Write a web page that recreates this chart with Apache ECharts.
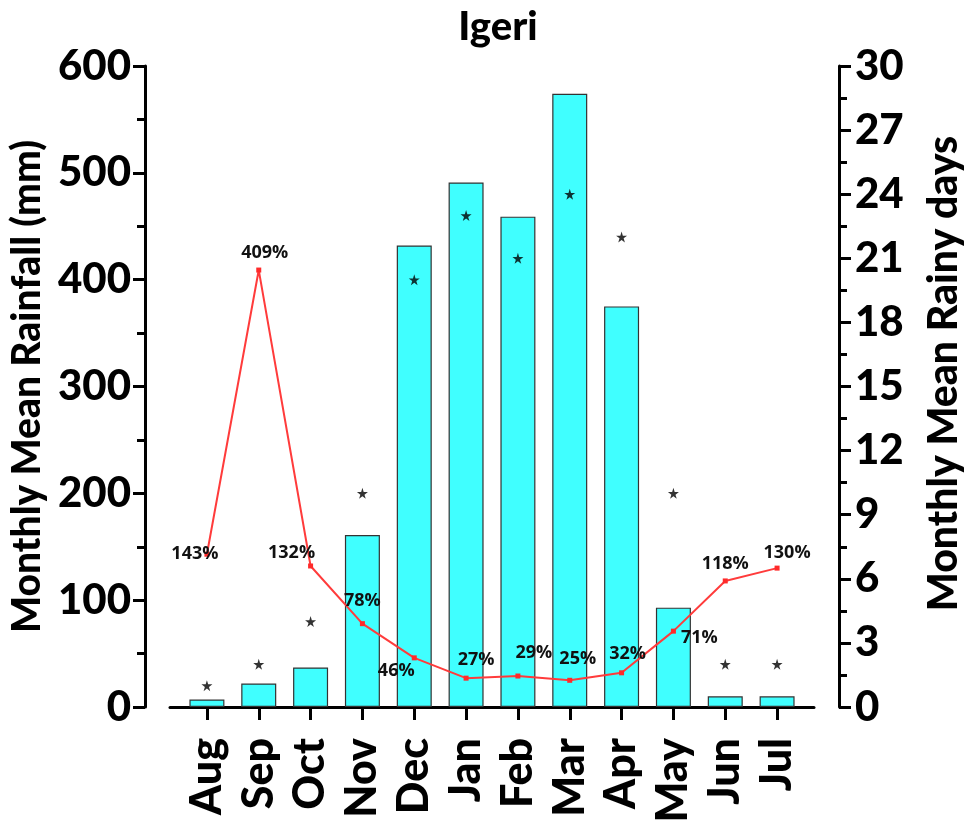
<!DOCTYPE html>
<html>
<head>
<meta charset="utf-8">
<script src="https://cdn.jsdelivr.net/npm/echarts@6/dist/echarts.min.js"></script>
<style>html,body{margin:0;padding:0;background:#fff}#c{width:966px;height:829px}</style>
</head>
<body>
<div id="c"></div>
<script>
// ---- data ----
const months = ['Aug','Sep','Oct','Nov','Dec','Jan','Feb','Mar','Apr','May','Jun','Jul'];
const rainfall = [7, 22, 37, 161, 432, 491, 459, 574, 375, 93, 10, 10];   // mm (left axis)
const rainyDays = [1, 2, 4, 10, 20, 23, 21, 24, 22, 10, 2, 2];           // days (right axis)
const cvPercent = [143, 409, 132, 78, 46, 27, 29, 25, 32, 71, 118, 130];  // % (plotted on left axis)
const leftAxisMin = 0, leftAxisMax = 600, leftAxisStep = 100;
const rightAxisMin = 0, rightAxisMax = 30, rightAxisStep = 3;

// ---- styling (label offsets per point) ----
const labelOffsets = [[-12,0],[6,-17],[-19,-13],[0,-23],[-18,13],[10,-18],[16,-23],[8,-21],[6,-19],[26,7],[0,-17],[10,-15]];

const FONT = 'Lato';
const starPath = 'path://M50,0 L61,35 L98,35 L68,57 L79,91 L50,70 L21,91 L32,57 L2,35 L39,35 Z';

const chart = echarts.init(document.getElementById('c'), null, {renderer: 'canvas'});
const gridTop = 66, gridBottom = 122;
chart.setOption({
  animation: false,
  backgroundColor: '#fff',
  textStyle: {fontFamily: FONT},
  title: {
    text: 'Igeri', left: 493, top: 2, textAlign: 'center',
    textStyle: {fontFamily: FONT, fontSize: 40, fontWeight: 900, color: '#000'}
  },
  grid: [
    {left: 181, right: 163, top: gridTop, bottom: gridBottom, containLabel: false, outerBoundsMode: 'none'},
    {left: 170, right: 152, top: gridTop, bottom: gridBottom, containLabel: false, outerBoundsMode: 'none'}
  ],
  xAxis: [
    {
      type: 'category', data: months, gridIndex: 0, offset: 26,
      boundaryGap: true,
      axisLine: {show: false},
      axisTick: {show: true, alignWithLabel: true, length: 13, lineStyle: {color: '#000', width: 3}},
      axisLabel: {rotate: 90, margin: 5, fontFamily: FONT, fontSize: 43, fontWeight: 900, color: '#000', interval: 0}
    },
    {
      type: 'value', gridIndex: 1, offset: 26, min: 0, max: 1,
      axisLine: {show: true, lineStyle: {color: '#000', width: 3}},
      axisTick: {show: false}, axisLabel: {show: false}, splitLine: {show: false}
    }
  ],
  yAxis: [
    {
      type: 'value', gridIndex: 0, position: 'left', offset: 36,
      min: leftAxisMin, max: leftAxisMax, interval: leftAxisStep,
      name: 'Monthly Mean Rainfall (mm)', nameLocation: 'middle', nameGap: 98,
      nameTextStyle: {fontFamily: FONT, fontSize: 39, fontWeight: 900, color: '#000'},
      axisLine: {show: true, lineStyle: {color: '#000', width: 3}},
      axisTick: {show: true, length: 12, lineStyle: {color: '#000', width: 3}},
      minorTick: {show: true, splitNumber: 2, length: 8, lineStyle: {color: '#000', width: 3}},
      axisLabel: {margin: 14, fontFamily: FONT, fontSize: 42, fontWeight: 900, color: '#000'},
      splitLine: {show: false}
    },
    {
      type: 'value', gridIndex: 0, position: 'right', offset: 36,
      min: rightAxisMin, max: rightAxisMax, interval: rightAxisStep,
      name: 'Monthly Mean Rainy days', nameLocation: 'middle', nameGap: 84,
      nameTextStyle: {fontFamily: FONT, fontSize: 41, fontWeight: 900, color: '#000', padding: [0, 0, 0, 26]},
      axisLine: {show: true, lineStyle: {color: '#000', width: 3}},
      axisTick: {show: true, length: 12, lineStyle: {color: '#000', width: 3}},
      minorTick: {show: true, splitNumber: 2, length: 8, lineStyle: {color: '#000', width: 3}},
      axisLabel: {margin: 16, fontFamily: FONT, fontSize: 42, fontWeight: 900, color: '#000'},
      splitLine: {show: false}
    },
    {
      type: 'value', gridIndex: 1, show: false, min: 0, max: 1
    }
  ],
  series: [
    {
      name: 'Rainfall', type: 'bar', xAxisIndex: 0, yAxisIndex: 0,
      data: rainfall, barWidth: 35,
      itemStyle: {color: '#40FFFF', borderColor: '#333', borderWidth: 1.2},
      z: 2
    },
    {
      name: 'CV', type: 'line', xAxisIndex: 0, yAxisIndex: 0,
      data: cvPercent.map((v, i) => ({value: v, label: {offset: labelOffsets[i]}})),
      symbol: 'rect', symbolSize: 5,
      lineStyle: {color: '#FF3B3B', width: 2},
      itemStyle: {color: '#FF2A2A'},
      label: {
        show: true, position: 'inside', formatter: p => p.value + '%',
        fontFamily: 'Open Sans', fontSize: 18, fontWeight: 'bold', color: '#111'
      },
      z: 4
    },
    {
      name: 'Rainy days', type: 'scatter', xAxisIndex: 0, yAxisIndex: 1,
      data: rainyDays, symbol: starPath, symbolSize: 11,
      itemStyle: {color: '#000'}, z: 5
    }
  ]
});
</script>
</body>
</html>
